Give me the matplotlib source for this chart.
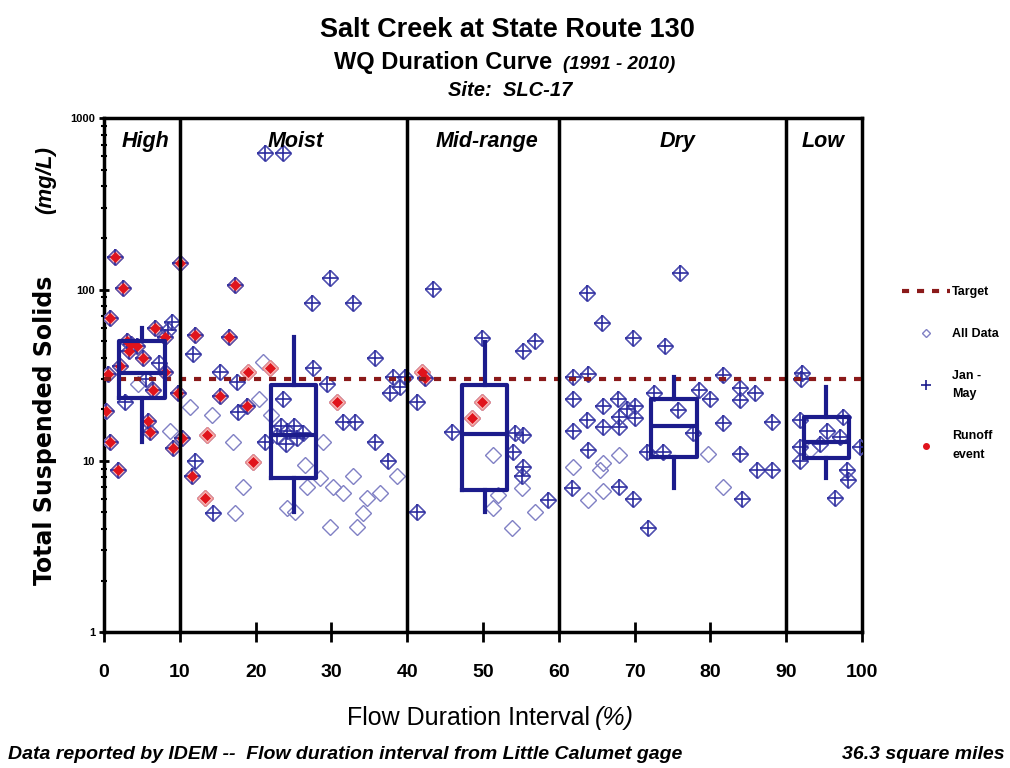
import matplotlib.pyplot as plt
from matplotlib.lines import Line2D
from matplotlib.ticker import NullFormatter, LogLocator

plt.rcParams['font.family'] = ['Liberation Sans', 'DejaVu Sans']
NARROW = ['Liberation Sans Narrow', 'Liberation Sans', 'DejaVu Sans']

# flow duration interval (%), TSS (mg/L), sampled Jan-May, runoff event
fdi = [1.5, 2.5, 0.8, 10.0, 3.0, 3.6, 4.3, 3.3, 6.7, 8.0, 9.0, 8.5, 5.1, 2.1, 0.5,
       8.0, 6.5, 9.8, 0.2, 6.0, 0.8, 9.1, 1.9, 8.7, 5.5, 7.2, 4.5, 5.8, 2.8, 10.3,
       21.2, 23.6, 17.3, 29.8, 27.4, 32.8, 12.0, 16.5, 11.7, 35.7, 15.3, 19.0, 21.9,
       21.0, 17.5, 27.6, 29.4, 38.1, 39.0, 37.7, 15.3, 18.9, 17.7, 30.7, 31.5, 33.1,
       11.3, 14.2, 13.6, 17.0, 19.7, 12.0, 11.6, 13.3, 14.4, 18.3, 17.3, 23.6, 23.3,
       25.0, 24.2, 22.8, 25.5, 24.0, 21.2, 26.2, 24.1, 25.2, 28.9, 35.7, 37.5, 38.6,
       32.9, 30.2, 31.5, 34.7, 36.4, 29.8, 33.4, 34.2, 26.8, 28.5, 20.5, 22.0, 26.5,
       43.4, 49.9, 56.9, 55.3, 42.3, 42.0, 39.7, 41.3, 49.9, 48.5, 45.9, 54.2, 55.3,
       51.3, 54.0, 55.3, 55.1, 55.1, 58.6, 51.3, 56.9, 53.8, 41.3, 52.0,
       76.0, 63.7, 65.7, 69.8, 74.0, 61.9, 63.9, 81.7, 83.9, 85.9, 61.9, 65.8, 67.8,
       69.0, 70.0, 68.0, 70.0, 80.0, 83.9, 75.7, 81.7, 88.1, 61.9, 63.7, 68.0, 65.8,
       63.9, 68.0, 61.9, 65.8, 73.7, 71.6, 77.7, 79.7, 83.9, 86.1, 88.1, 61.7, 63.9,
       65.8, 68.0, 69.8, 81.7, 84.2, 71.8, 65.4, 72.5, 78.5,
       92.1, 92.0, 91.8, 97.5, 91.8, 99.7, 91.8, 98.0, 98.2, 96.4, 95.4, 97.1, 93.1, 94.5]
tss = [155, 102, 68, 143, 50, 48, 47, 44, 60, 53, 65, 58, 40, 36, 32,
       33, 26, 25, 19.5, 14.7, 12.8, 11.8, 8.8, 15, 30, 37, 28, 17, 22, 13.6,
       630, 630, 106, 117, 83, 84, 54, 53, 42, 40, 33, 33, 35,
       38, 29, 35, 28, 31, 27, 25, 24, 21, 19.3, 22, 16.8, 16.8,
       20.6, 18.5, 14.1, 12.9, 9.8, 10, 8.1, 6.1, 4.95, 7.0, 4.95, 23, 16,
       16, 15, 14, 13.5, 12.5, 12.9, 14.5, 5.3, 5.0, 12.9, 12.9, 10, 8.1,
       8.1, 7, 6.5, 6.1, 6.5, 4.1, 4.1, 4.95, 7, 7.9, 23, 18.5, 9.5,
       101, 52, 50, 44, 30.5, 33, 31, 22, 22, 17.8, 14.7, 14.5, 14.1,
       10.8, 11.2, 9.2, 8.1, 6.9, 5.9, 5.3, 5.0, 4.05, 5.0, 6.3,
       125, 95, 64, 52, 47, 31, 32, 31.7, 26.6, 25, 23, 21, 23,
       20, 21, 18, 17.8, 23, 22.6, 19.8, 16.6, 16.8, 15, 17.3, 15.8, 15.8,
       11.5, 10.8, 9.2, 9.7, 11.2, 11.2, 14.5, 11, 11, 8.8, 8.8, 6.9, 5.9,
       6.7, 7, 6, 7, 6, 4.05, 8.8, 25, 26,
       32.5, 30, 17.3, 18, 12, 12, 10, 8.8, 7.7, 6.1, 15, 13.8, 11.5, 12.5]
jan_may = [1, 1, 1, 1, 1, 1, 1, 1, 1, 1, 1, 1, 1, 1, 1,
           1, 1, 1, 1, 1, 1, 1, 1, 0, 1, 1, 0, 1, 1, 1,
           1, 1, 1, 1, 1, 1, 1, 1, 1, 1, 1, 0, 0,
           0, 1, 1, 1, 1, 1, 1, 1, 1, 1, 0, 1, 1,
           0, 0, 0, 0, 0, 1, 1, 0, 1, 0, 0, 1, 1,
           1, 1, 1, 1, 1, 1, 1, 0, 0, 0, 1, 1, 0,
           0, 0, 0, 0, 0, 0, 0, 0, 0, 0, 0, 0, 0,
           1, 1, 1, 1, 1, 0, 1, 1, 0, 0, 1, 1, 1,
           0, 1, 1, 1, 0, 1, 0, 0, 0, 1, 0,
           1, 1, 1, 1, 1, 1, 1, 1, 1, 1, 1, 1, 1,
           1, 1, 1, 1, 1, 1, 1, 1, 1, 1, 1, 1, 1,
           1, 0, 0, 0, 1, 1, 1, 0, 1, 1, 1, 1, 0,
           0, 1, 1, 0, 1, 1, 0, 1, 1,
           1, 1, 1, 1, 1, 1, 1, 1, 1, 1, 1, 1, 0, 1]
runoff = [1, 1, 1, 1, 1, 1, 1, 1, 1, 1, 0, 0, 1, 1, 1,
          1, 1, 1, 1, 1, 1, 1, 1, 0, 0, 0, 0, 1, 0, 1,
          0, 0, 1, 0, 0, 0, 1, 1, 0, 0, 0, 1, 1,
          0, 0, 0, 0, 0, 0, 0, 1, 1, 0, 1, 0, 0,
          0, 0, 1, 0, 1, 0, 1, 1, 0, 0, 0, 0, 0,
          0, 0, 0, 0, 0, 0, 0, 0, 0, 0, 0, 0, 0,
          0, 0, 0, 0, 0, 0, 0, 0, 0, 0, 0, 0, 0,
          0, 0, 0, 0, 1, 1, 0, 0, 1, 1, 0, 0, 0,
          0, 0, 0, 0, 0, 0, 0, 0, 0, 0, 0,
          0, 0, 0, 0, 0, 0, 0, 0, 0, 0, 0, 0, 0,
          0, 0, 0, 0, 0, 0, 0, 0, 0, 0, 0, 0, 0,
          0, 0, 0, 0, 0, 0, 0, 0, 0, 0, 0, 0, 0,
          0, 0, 0, 0, 0, 0, 0, 0, 0,
          0, 0, 0, 0, 0, 0, 0, 0, 0, 0, 0, 0, 0, 0]

# flow zones
zone_edges = [10, 40, 60, 90]
zone_names = ['High', 'Moist', 'Mid-range', 'Dry', 'Low']
zone_mid = [5.5, 25.3, 50.5, 75.7, 94.9]

# box plot statistics per zone
box_pos = [5, 25, 50.2, 75.2, 95.3]
box_lo = [12.9, 5.0, 5.0, 6.9, 7.9]
box_q1 = [23.2, 7.9, 6.75, 10.5, 10.4]
box_med = [32.5, 14.1, 14.3, 16.0, 12.9]
box_q3 = [50, 27.7, 27.7, 22.9, 18.0]
box_hi = [60, 52.7, 49.3, 30.8, 27.0]

target = 30

navy = '#1c1c8c'
red = '#e0141c'

fig = plt.figure(figsize=(10.1, 7.68), dpi=100)
ax = fig.add_axes([0.103, 0.177, 0.7505, 0.669])
ax.set_yscale('log')
ax.set_xlim(0, 100)
ax.set_ylim(1, 1000)

# all samples as open diamonds
ax.plot(fdi, tss, 'D', ls='none', ms=8.5, mfc='none', mec='#8080c4', mew=1.0, zorder=3)

rx = [x for x, r in zip(fdi, runoff) if r]
ry = [y for y, r in zip(tss, runoff) if r]
ax.plot(rx, ry, 'D', ls='none', ms=8, mfc='#f7c0c0', mec='#e88a8a', mew=1, zorder=3.5)

jx = [x for x, j in zip(fdi, jan_may) if j]
jy = [y for y, j in zip(tss, jan_may) if j]
ax.plot(jx, jy, 'D', ls='none', ms=8.5, mfc='none', mec='#5050b0', mew=1.0, zorder=3.6)
ax.plot(jx, jy, '+', ls='none', ms=12, mec='#2b2b9e', mew=1.2, zorder=4)

# runoff events marked with a red core
ax.plot(rx, ry, 'D', ls='none', ms=5, mfc=red, mec=red, mew=0.5, zorder=5)

ax.axhline(target, color='#8b1a1a', lw=3, dashes=(1.7, 1.9), zorder=6)

stats = [dict(med=m, q1=a, q3=b, whislo=lo, whishi=hi, fliers=[])
         for lo, a, m, b, hi in zip(box_lo, box_q1, box_med, box_q3, box_hi)]
bp = dict(color=navy, lw=3)
ax.bxp(stats, positions=box_pos, widths=6, showcaps=False, showfliers=False,
       boxprops=bp, whiskerprops=bp, medianprops=bp, manage_ticks=False, zorder=7)

for e in zone_edges:
    ax.axvline(e, color='k', lw=2.5, zorder=8)
for name, xm in zip(zone_names, zone_mid):
    ax.text(xm, 730, name, ha='center', va='center', fontsize=15.5,
            fontweight='bold', style='italic', zorder=9)

for s in ax.spines.values():
    s.set_linewidth(2.5)

ax.set_xticks(range(0, 101, 10))
ax.set_xticklabels([str(v) for v in range(0, 101, 10)], family=NARROW,
                   fontweight='bold', fontsize=14)
ax.tick_params(axis='x', direction='inout', length=14, width=2, pad=16)
ax.set_yticks([1, 10, 100, 1000])
ax.set_yticklabels(['1', '10', '100', '1000'], family=NARROW, fontweight='bold', fontsize=8)
ax.yaxis.set_minor_locator(LogLocator(subs=range(2, 10)))
ax.yaxis.set_minor_formatter(NullFormatter())
ax.tick_params(axis='y', which='major', direction='inout', length=7, width=2, pad=3)
ax.tick_params(axis='y', which='minor', direction='inout', length=4, width=1.5)

# titles
fig.text(0.502, 0.961, 'Salt Creek at State Route 130', ha='center', va='center',
         fontsize=19.5, fontweight='bold')
fig.text(0.5465, 0.918, 'WQ Duration Curve', ha='right', va='center',
         fontsize=17, fontweight='bold')
fig.text(0.557, 0.916, '(1991 - 2010)', ha='left', va='center',
         fontsize=13.5, fontweight='bold', style='italic')
fig.text(0.505, 0.882, 'Site:  SLC-17', ha='center', va='center',
         fontsize=14.5, fontweight='bold', style='italic')

# axis labels
fig.text(0.045, 0.44, 'Total Suspended Solids', rotation=90, ha='center', va='center',
         fontsize=17, fontweight='bold', family='DejaVu Sans')
fig.text(0.045, 0.766, '(mg/L)', rotation=90, ha='center', va='center',
         fontsize=16, fontweight='bold', style='italic')
fig.text(0.584, 0.065, 'Flow Duration Interval', ha='right', va='center',
         fontsize=18, family=NARROW)
fig.text(0.589, 0.065, '(%)', ha='left', va='center',
         fontsize=18, family=NARROW, style='italic')

fig.text(0.008, 0.017, 'Data reported by IDEM --  Flow duration interval from Little Calumet gage',
         ha='left', va='center', fontsize=14, family=NARROW, fontweight='bold', style='italic')
fig.text(0.995, 0.017, '36.3 square miles', ha='right', va='center', fontsize=14,
         family=NARROW, fontweight='bold', style='italic')

handles = [
    Line2D([0], [0], color='#8b1a1a', lw=3, dashes=(1.7, 1.9)),
    Line2D([0], [0], marker='D', ls='none', ms=4, mfc='none', mec='#8080c4'),
    Line2D([0], [0], marker='+', ls='none', ms=7, mec=navy, mew=1.2),
    Line2D([0], [0], marker='o', ls='none', ms=4, mfc=red, mec=red),
]
leg = fig.legend(handles, ['Target', 'All Data', 'Jan -\nMay', 'Runoff\nevent'],
                 loc='upper left', bbox_to_anchor=(0.882, 0.642), frameon=False,
                 prop=dict(family=NARROW, weight='bold', size=9),
                 handlelength=3.8, handletextpad=0.2, labelspacing=2.4)
for t in leg.get_texts():
    t.set_linespacing(1.7)

fig.savefig('out.png', dpi=100)
